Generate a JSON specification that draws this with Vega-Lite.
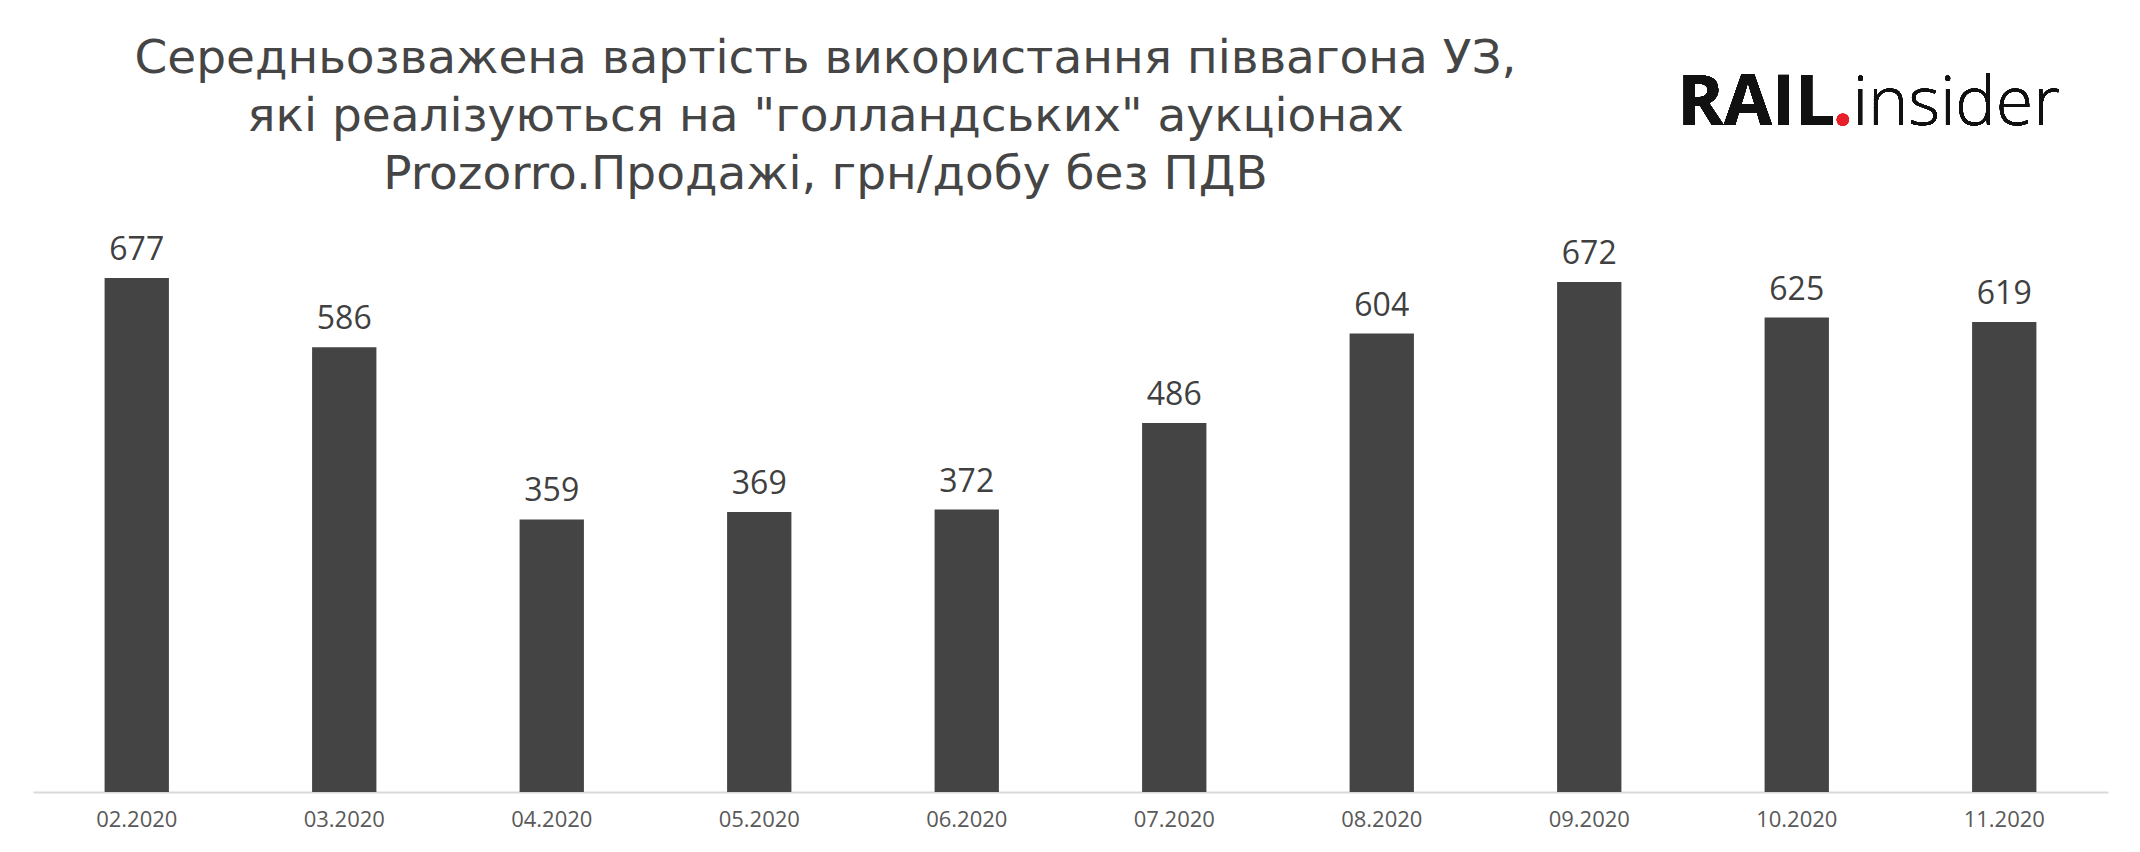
{
  "$schema": "https://vega.github.io/schema/vega-lite/v6.json",
  "width": 2075,
  "height": 772,
  "autosize": {"type": "none"},
  "padding": {"left": 33, "top": 20, "right": 32, "bottom": 60},
  "background": "white",
  "title": {
    "text": [
      "Середньозважена вартість використання піввагона УЗ,",
      "які реалізуються на \"голландських\" аукціонах",
      "Prozorro.Продажі, грн/добу без ПДВ"
    ],
    "font": "DejaVu Sans",
    "fontSize": 47,
    "fontWeight": "normal",
    "color": "#454545",
    "anchor": "middle",
    "frame": "group",
    "baseline": "alphabetic",
    "lineHeight": 58,
    "offset": -216,
    "dx": -245
  },
  "data": {
    "values": [
      {"month": "02.2020", "value": 677},
      {"month": "03.2020", "value": 586},
      {"month": "04.2020", "value": 359},
      {"month": "05.2020", "value": 369},
      {"month": "06.2020", "value": 372},
      {"month": "07.2020", "value": 486},
      {"month": "08.2020", "value": 604},
      {"month": "09.2020", "value": 672},
      {"month": "10.2020", "value": 625},
      {"month": "11.2020", "value": 619}
    ]
  },
  "encoding": {
    "x": {
      "field": "month",
      "type": "ordinal",
      "sort": null,
      "scale": {"paddingInner": 0.69, "paddingOuter": 0.345},
      "axis": {
        "title": null,
        "labelAngle": 0,
        "labelFont": "Open Sans",
        "labelFontSize": 22,
        "labelColor": "#595959",
        "labelPadding": 17,
        "ticks": false,
        "domainColor": "#d9d9d9",
        "domainWidth": 2
      }
    },
    "y": {
      "field": "value",
      "type": "quantitative",
      "scale": {"domain": [0, 1017], "nice": false},
      "axis": null
    }
  },
  "layer": [
    {"mark": {"type": "bar", "color": "#444444"}},
    {
      "mark": {
        "type": "text",
        "font": "Open Sans",
        "fontSize": 32,
        "color": "#404040",
        "baseline": "alphabetic",
        "dy": -18
      },
      "encoding": {"text": {"field": "value", "type": "quantitative"}}
    },
    {
      "mark": {
        "type": "text",
        "text": "RAIL",
        "font": "Open Sans",
        "fontSize": 70,
        "fontWeight": "bold",
        "color": "#111111",
        "align": "right",
        "baseline": "alphabetic",
        "dx": 38
      },
      "encoding": {
        "x": {"datum": "10.2020", "type": "ordinal"},
        "y": {"datum": 879, "type": "quantitative"}
      }
    },
    {
      "mark": {
        "type": "text",
        "text": ".",
        "font": "Open Sans",
        "fontSize": 70,
        "fontWeight": "bold",
        "color": "#e8202a",
        "align": "center",
        "baseline": "alphabetic",
        "dx": 46
      },
      "encoding": {
        "x": {"datum": "10.2020", "type": "ordinal"},
        "y": {"datum": 879, "type": "quantitative"}
      }
    },
    {
      "mark": {
        "type": "text",
        "text": "insider",
        "font": "Open Sans",
        "fontSize": 68,
        "fontWeight": 300,
        "color": "#111111",
        "align": "left",
        "baseline": "alphabetic",
        "dx": 56
      },
      "encoding": {
        "x": {"datum": "10.2020", "type": "ordinal"},
        "y": {"datum": 879, "type": "quantitative"}
      }
    }
  ],
  "config": {
    "view": {"stroke": null}
  }
}
